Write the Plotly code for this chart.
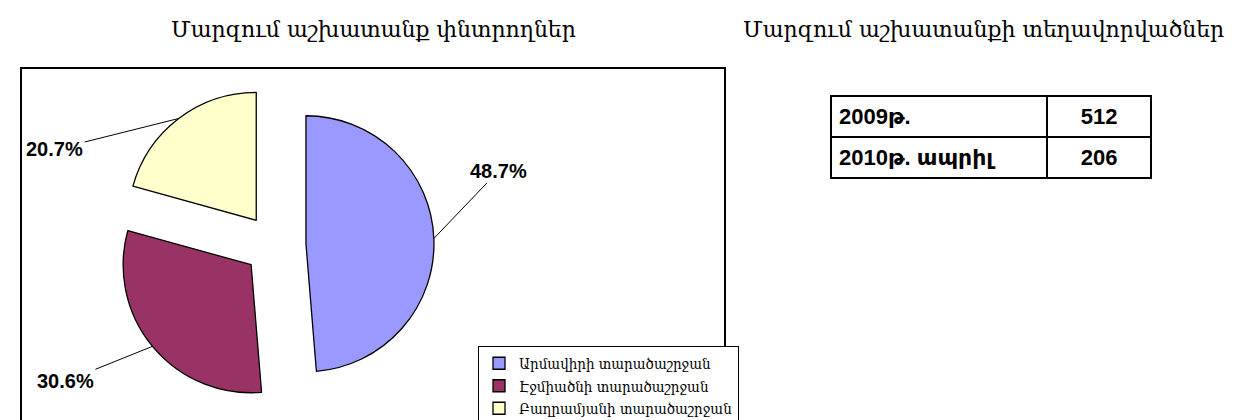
import math
import plotly.graph_objects as go

# ---- data ----
regions = ["Արմավիրի տարածաշրջան", "Էջմիածնի տարածաշրջան", "Բաղրամյանի տարածաշրջան"]
shares = [48.7, 30.6, 20.7]
colors = ["#9999FF", "#993366", "#FFFFCC"]
periods = ["2009թ.", "2010թ. ապրիլ"]
placed = [512, 206]
title_left = "Մարզում աշխատանք փնտրողներ"
title_right = "Մարզում աշխատանքի տեղավորվածներ"

# ---- layout constants (pixels) ----
W, H = 1255, 420
CX, CY, R, PULL = 267, 237, 128, 0.242
half = R * (1 + PULL)
dom_x = [(CX - half) / W, (CX + half) / W]
dom_y = [1 - (CY + half) / H, 1 - (CY - half) / H]
label_offsets = [(65, -68), (-87, 35), (-124, 31)]

ARM_SERIF = "DejaVu Serif, DejaVu Sans, serif"
ARM_LEG = "DejaVu Serif Condensed, DejaVu Serif, DejaVu Sans, serif"
BOLD_SANS = "Liberation Sans, Arial, DejaVu Sans, sans-serif"

fig = go.Figure()
fig.add_trace(go.Pie(
    labels=regions, values=shares, sort=False, direction="clockwise", rotation=0,
    pull=[PULL] * len(shares),
    marker=dict(colors=colors, line=dict(color="black", width=1.3)),
    textinfo="none", hoverinfo="skip",
    domain=dict(x=dom_x, y=dom_y),
))

fig.add_trace(go.Table(
    domain=dict(x=[823 / W, 1144 / W], y=[1 - 230 / H, 1 - 88 / H]),
    columnwidth=[217, 104],
    header=dict(values=[f"<b>{periods[0]}</b>", f"<b>{placed[0]}</b>"],
                align=["left", "center"], height=37,
                line=dict(color="black", width=2), fill=dict(color="white"),
                font=dict(family=BOLD_SANS, size=22, color="black")),
    cells=dict(values=[[f"<b>{periods[1]}</b>"], [f"<b>{placed[1]}</b>"]],
               align=["left", "center"], height=37,
               line=dict(color="black", width=2), fill=dict(color="white"),
               font=dict(family=BOLD_SANS, size=22, color="black")),
))

annotations = []
total = sum(shares)
cum = 0.0
for v, (ax, ay) in zip(shares, label_offsets):
    mid = (cum + v / 2) / total * 2 * math.pi
    cum += v
    rr = R * (1 + PULL)
    px = CX + rr * math.sin(mid)
    py = CY - rr * math.cos(mid)
    annotations.append(dict(
        x=px / W, y=1 - py / H, xref="paper", yref="paper",
        text=f"<b>{v:.1f}%</b>", showarrow=True, arrowhead=0, arrowwidth=1,
        arrowcolor="black", ax=ax, ay=ay,
        font=dict(family=BOLD_SANS, size=20, color="black"),
    ))

for t, xc in [(title_left, 365), (title_right, 975)]:
    annotations.append(dict(
        x=xc / W, y=1 - 21 / H, xref="paper", yref="paper", text=t,
        showarrow=False, xanchor="center", yanchor="middle",
        font=dict(family=ARM_SERIF, size=22, color="black"),
    ))

fig.update_layout(
    width=W, height=H, margin=dict(l=0, r=0, t=0, b=0),
    paper_bgcolor="white", plot_bgcolor="white",
    showlegend=True,
    legend=dict(x=470 / W, y=1 - 418 / H, xanchor="left", yanchor="bottom",
                bordercolor="black", borderwidth=1, bgcolor="white",
                font=dict(family=ARM_LEG, size=15, color="black"),
                tracegroupgap=0, itemwidth=30),
    annotations=annotations,
    shapes=[dict(type="rect", xref="paper", yref="paper",
                 x0=13 / W, x1=717 / W, y0=1 - 418 / H, y1=1 - 60 / H,
                 line=dict(color="black", width=2), layer="below")],
)

fig.write_html("out.html")
